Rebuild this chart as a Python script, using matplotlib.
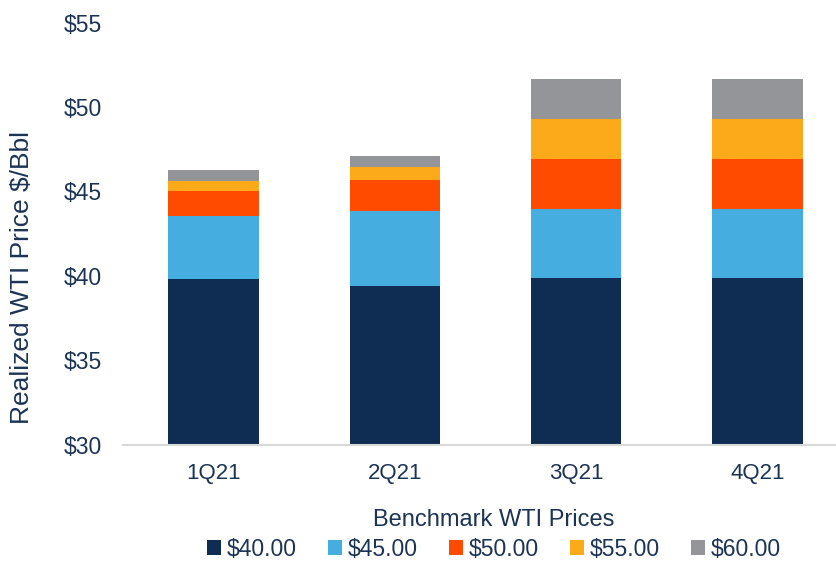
import numpy as np
import matplotlib.pyplot as plt
from matplotlib.patches import Patch

plt.rcParams['font.family'] = ['Liberation Sans', 'DejaVu Sans']

quarters = ['1Q21', '2Q21', '3Q21', '4Q21']
series = ['$40.00', '$45.00', '$50.00', '$55.00', '$60.00']
# stacked segment heights ($/Bbl) for each benchmark price, base segment is the full value
seg_40 = [39.80, 39.39, 39.88, 39.88]
seg_45 = [3.72, 4.44, 4.07, 4.07]
seg_50 = [1.52, 1.84, 2.98, 2.98]
seg_55 = [0.59, 0.75, 2.35, 2.35]
seg_60 = [0.63, 0.67, 2.36, 2.36]
colors = ['#0F2D52', '#45ADE0', '#FF4B00', '#FDAA1A', '#939598']
text_color = '#1B3355'

fig = plt.figure(figsize=(8.36, 5.63), dpi=100)
ax = fig.add_axes([123/836, (563-444.5)/563, 725/836, 422/563])

x = np.arange(len(quarters))
ymin = 30
base = np.full(len(quarters), float(ymin))
for i, (vals, col) in enumerate(zip([seg_40, seg_45, seg_50, seg_55, seg_60], colors)):
    heights = np.array(vals) - (ymin if i == 0 else 0)
    ax.bar(x, heights, 0.5, bottom=base, color=col, edgecolor='none')
    base = base + heights

ax.set_xlim(-0.5, 3.5)
ax.set_ylim(30, 55)
ax.set_yticks(range(30, 56, 5))
ax.set_yticklabels(['${}'.format(v) for v in range(30, 56, 5)])
ax.set_xticks(x)
ax.set_xticklabels(quarters)
for s in ['top', 'right', 'left']:
    ax.spines[s].set_visible(False)
ax.spines['bottom'].set_color('#D9D9D9')
ax.spines['bottom'].set_linewidth(1.5)
ax.tick_params(axis='y', length=0, pad=15, labelsize=16.5, labelcolor=text_color)
ax.tick_params(axis='x', length=0, pad=13, labelsize=16, labelcolor=text_color)

fig.text(22/836, 1 - 277.5/563, 'Realized WTI Price $/Bbl', rotation=90,
         ha='center', va='center', fontsize=19, color=text_color)

handles = [Patch(facecolor=c, edgecolor='none') for c in colors]
leg = fig.legend(handles, series, loc='center', bbox_to_anchor=(494/836, 1 - 535/563),
                 ncol=5, frameon=False, fontsize=16.5, title='Benchmark WTI Prices',
                 title_fontsize=17, handlelength=0.62, handleheight=0.62,
                 handletextpad=0.25, columnspacing=1.35, labelspacing=0.3,
                 borderpad=0.05)
for t in leg.get_texts():
    t.set_color(text_color)
leg.get_title().set_color(text_color)

fig.savefig('out.png', dpi=100)
